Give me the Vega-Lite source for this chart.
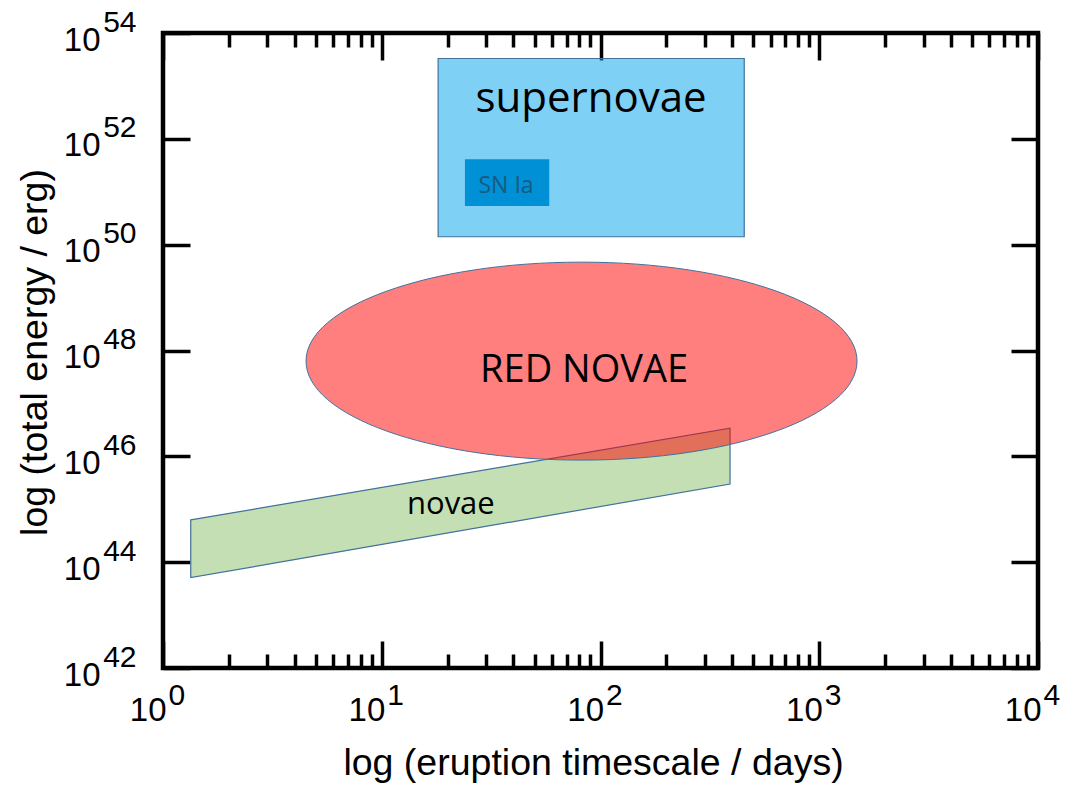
{
  "$schema": "https://vega.github.io/schema/vega-lite/v6.json",
  "width": 875,
  "height": 635,
  "autosize": {"type": "none"},
  "padding": {"left": 163, "top": 33, "right": 31, "bottom": 117},
  "background": "white",
  "config": {
    "view": {"stroke": "black", "strokeWidth": 4.5},
    "axis": {"grid": false, "domain": false, "labelColor": "black", "tickColor": "black", "titleColor": "black", "labelFont": "Liberation Sans", "titleFont": "Liberation Sans", "titleFontWeight": "normal", "labelFontWeight": "normal", "labelFlush": false, "labelOverlap": false, "labelBound": false}
  },
  "resolve": {"axis": {"x": "independent", "y": "independent"}},
  "layer": [
    {
      "data": {"values": [{"days": 1.339, "eLow": 5.1e43, "eHigh": 6.3e44}, {"days": 391, "eLow": 3.0e45, "eHigh": 3.4e46}]},
      "mark": {"type": "area", "fill": "#c4dfb3", "stroke": "#41719c", "strokeWidth": 1.2, "opacity": 1},
      "encoding": {
        "x": {"field": "days", "type": "quantitative", "scale": {"type": "log", "domain": [1, 10000], "nice": false},
          "axis": {"orient": "bottom", "values": [1,2,3,4,5,6,7,8,9,10,20,30,40,50,60,70,80,90,100,200,300,400,500,600,700,800,900,1000,2000,3000,4000,5000,6000,7000,8000,9000,10000], "labels": false, "tickSize": {"condition": {"test": "indexof([1,10,100,1000,10000], datum.value) >= 0", "value": -27}, "value": -14}, "tickWidth": 3.5, "title": null}},
        "y": {"field": "eHigh", "type": "quantitative", "scale": {"type": "log", "domain": [1e42, 1e54], "nice": false},
          "axis": {"orient": "left", "values": [1e42, 1e44, 1e46, 1e48, 1e50, 1e52, 1e54], "labels": false, "tickSize": -27, "tickWidth": 3.5, "title": null}},
        "y2": {"field": "eLow"}
      }
    },
    {
      "data": {"values": [{"days": 81.9, "energy": 6.3e47}]},
      "mark": {"type": "point", "shape": "M-1,0C-1,-0.1984,-0.5523,-0.3593,0,-0.3593C0.5523,-0.3593,1,-0.1984,1,0C1,0.1984,0.5523,0.3593,0,0.3593C-0.5523,0.3593,-1,0.1984,-1,0Z", "size": 303601, "filled": true, "fill": "#ff0000", "fillOpacity": 0.5, "stroke": "#41719c", "strokeWidth": 1, "strokeOpacity": 1, "opacity": 1},
      "encoding": {
        "x": {"field": "days", "type": "quantitative",
          "axis": {"orient": "top", "values": [1,2,3,4,5,6,7,8,9,10,20,30,40,50,60,70,80,90,100,200,300,400,500,600,700,800,900,1000,2000,3000,4000,5000,6000,7000,8000,9000,10000], "labels": false, "tickSize": {"condition": {"test": "indexof([1,10,100,1000,10000], datum.value) >= 0", "value": -27}, "value": -14}, "tickWidth": 3.5, "title": null}},
        "y": {"field": "energy", "type": "quantitative",
          "axis": {"orient": "right", "values": [1e42, 1e44, 1e46, 1e48, 1e50, 1e52, 1e54], "labels": false, "tickSize": -27, "tickWidth": 3.5, "title": null}}
      }
    },
    {
      "data": {"values": [{"dLow": 18.1, "dHigh": 454, "eLow": 1.41e50, "eHigh": 3.3e53}]},
      "mark": {"type": "rect", "fill": "#00a1ec", "fillOpacity": 0.5, "stroke": "#41719c", "strokeWidth": 1.2},
      "encoding": {
        "x": {"field": "dLow", "type": "quantitative",
          "axis": {"orient": "bottom", "values": [1, 10, 100, 1000, 10000], "ticks": false, "labelExpr": "'10'", "labelFontSize": 33, "labelAlign": "right", "labelBaseline": "alphabetic", "labelPadding": 52, "labelOffset": 3,
            "title": "log (eruption timescale / days)", "titleFontSize": 37.5, "titleX": 430, "titleY": 106, "titleBaseline": "alphabetic", "titleAlign": "center", "titleAnchor": null}},
        "x2": {"field": "dHigh"},
        "y": {"field": "eLow", "type": "quantitative",
          "axis": {"orient": "left", "values": [1e42, 1e44, 1e46, 1e48, 1e50, 1e52, 1e54], "ticks": false, "labelExpr": "'10'", "labelFontSize": 33, "labelAlign": "right", "labelBaseline": "alphabetic", "labelPadding": 63, "labelOffset": 17,
            "title": "log (total energy / erg)", "titleFontSize": 37.5, "titleX": -117, "titleY": 319, "titleAngle": 270, "titleBaseline": "alphabetic", "titleAlign": "center", "titleAnchor": null}},
        "y2": {"field": "eHigh"}
      }
    },
    {
      "data": {"values": [{"dLow": 24.0, "dHigh": 58.3, "eLow": 5.4e50, "eHigh": 4.1e51}]},
      "mark": {"type": "rect", "fill": "#0090d6", "stroke": null},
      "encoding": {
        "x": {"field": "dLow", "type": "quantitative",
          "axis": {"orient": "bottom", "values": [1, 10, 100, 1000, 10000], "ticks": false, "labelExpr": "'' + round(log(datum.value) / LN10)", "labelFontSize": 30, "labelAlign": "left", "labelBaseline": "alphabetic", "labelPadding": 36, "labelOffset": 5, "title": null}},
        "x2": {"field": "dHigh"},
        "y": {"field": "eLow", "type": "quantitative",
          "axis": {"orient": "left", "values": [1e42, 1e44, 1e46, 1e48, 1e50, 1e52, 1e54], "ticks": false, "labelExpr": "'' + round(log(datum.value) / LN10)", "labelFontSize": 30, "labelAlign": "right", "labelBaseline": "alphabetic", "labelPadding": 27, "labelOffset": -2, "title": null}},
        "y2": {"field": "eHigh"}
      }
    },
    {
      "data": {"values": [{"days": 90.5, "energy": 3.2e52, "label": "supernovae"}]},
      "mark": {"type": "text", "font": "Open Sans", "fontSize": 42, "color": "black", "align": "center", "baseline": "alphabetic"},
      "encoding": {
        "x": {"field": "days", "type": "quantitative", "axis": null},
        "y": {"field": "energy", "type": "quantitative", "axis": null},
        "text": {"field": "label"}
      }
    },
    {
      "data": {"values": [{"days": 37.0, "energy": 9.3e50, "label": "SN Ia"}]},
      "mark": {"type": "text", "font": "Open Sans", "fontSize": 23, "color": "#1a5a80", "align": "center", "baseline": "alphabetic"},
      "encoding": {
        "x": {"field": "days", "type": "quantitative", "axis": null},
        "y": {"field": "energy", "type": "quantitative", "axis": null},
        "text": {"field": "label"}
      }
    },
    {
      "data": {"values": [{"days": 84.1, "energy": 2.5e47, "label": "RED NOVAE"}]},
      "mark": {"type": "text", "font": "Open Sans", "fontSize": 38, "color": "black", "align": "center", "baseline": "alphabetic"},
      "encoding": {
        "x": {"field": "days", "type": "quantitative", "axis": null},
        "y": {"field": "energy", "type": "quantitative", "axis": null},
        "text": {"field": "label"}
      }
    },
    {
      "data": {"values": [{"days": 20.7, "energy": 8.1e44, "label": "novae"}]},
      "mark": {"type": "text", "font": "Open Sans", "fontSize": 31, "color": "black", "align": "center", "baseline": "alphabetic"},
      "encoding": {
        "x": {"field": "days", "type": "quantitative", "axis": null},
        "y": {"field": "energy", "type": "quantitative", "axis": null},
        "text": {"field": "label"}
      }
    }
  ]
}
